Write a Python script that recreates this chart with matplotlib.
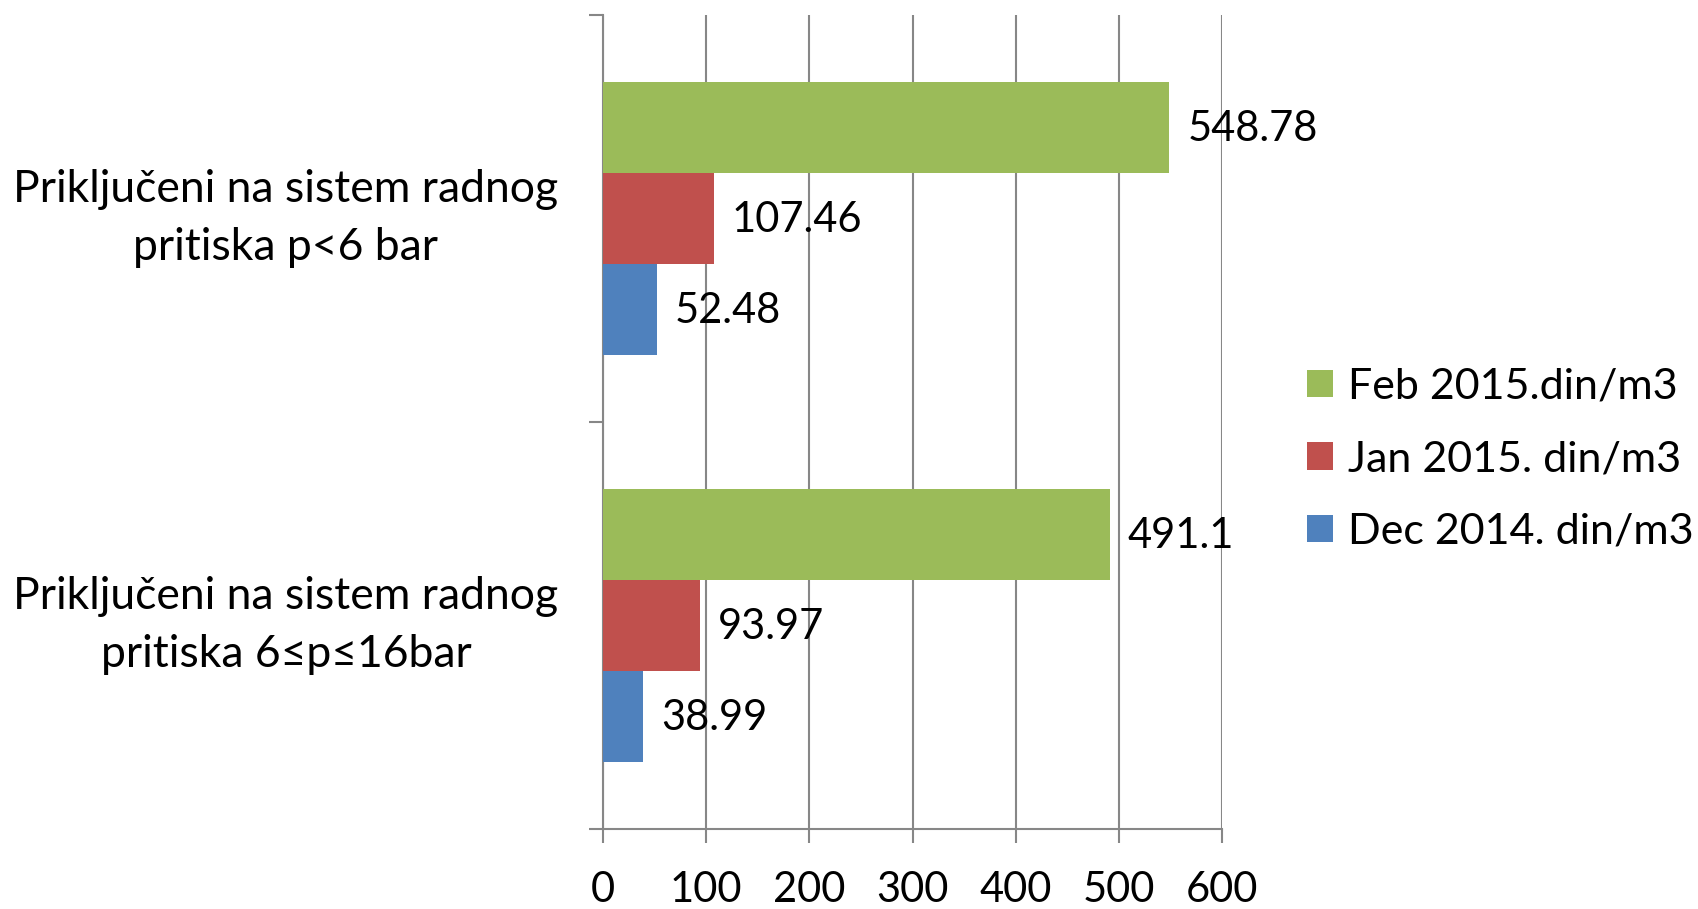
import numpy as np
import matplotlib
matplotlib.use("Agg")
import matplotlib.pyplot as plt
from matplotlib.patches import Patch

plt.rcParams['font.family'] = ['Lato', 'DejaVu Sans']

# Podaci
categories = ["Priključeni na sistem radnog\npritiska p<6 bar",
              "Priključeni na sistem radnog\npritiska 6≤p≤16bar"]
series_names = ["Feb 2015.din/m3", "Jan 2015. din/m3", "Dec 2014. din/m3"]
feb_2015 = [548.78, 491.1]
jan_2015 = [107.46, 93.97]
dec_2014 = [52.48, 38.99]
x_ticks = [0, 100, 200, 300, 400, 500, 600]

colors = ['#9BBB59', '#C0504D', '#4F81BD']
grid_color = '#878787'
fs = 30

fig = plt.figure(figsize=(16.98, 9.09), dpi=100)
ax = fig.add_axes([0.3551, 0.0880, 0.3646, 0.8955])

y = np.arange(len(categories))
bw = 0.2235
offsets = [-bw, 0, bw]
for vals, off, col in zip([feb_2015, jan_2015, dec_2014], offsets, colors):
    bars = ax.barh(y + off, vals, height=bw, color=col, zorder=3)
    for b, v in zip(bars, vals):
        ax.annotate(f"{v:g}", (b.get_width(), b.get_y() + b.get_height() / 2),
                    xytext=(13, -1), textcoords='offset points',
                    va='center', ha='left', fontsize=fs, zorder=4)

ax.set_xlim(0, 600)
ax.set_ylim(1.5, -0.5)
ax.set_xticks(x_ticks)
ax.set_xticklabels([str(t) for t in x_ticks], fontsize=fs)
ax.set_yticks(y)
ax.set_yticklabels([])
ax.set_yticks([-0.5, 0.5, 1.5], minor=True)

# nazivi kategorija kao tekst levo od ose
for yi, cat in zip(y, categories):
    ax.annotate(cat, (0, yi), xycoords=('axes fraction', 'data'),
                xytext=(-32, 0), textcoords='offset points',
                ha='right', va='center', multialignment='center',
                fontsize=32, linespacing=1.53, annotation_clip=False)

ax.xaxis.grid(True, color=grid_color, linewidth=1.5, zorder=0)
ax.tick_params(axis='x', which='major', direction='out', length=10, width=1.5,
               color=grid_color, pad=20)
ax.tick_params(axis='y', which='major', length=0)
ax.tick_params(axis='y', which='minor', direction='out', length=10, width=1.5,
               color=grid_color)

for s in ['top', 'right']:
    ax.spines[s].set_visible(False)
for s in ['left', 'bottom']:
    ax.spines[s].set_color(grid_color)
    ax.spines[s].set_linewidth(1.5)

handles = [Patch(facecolor=c, edgecolor='none') for c in colors]
fig.legend(handles, series_names, loc='center left', bbox_to_anchor=(0.770, 0.495),
           frameon=False, fontsize=31, handlelength=0.6, handleheight=0.6,
           handletextpad=0.35, labelspacing=0.8, borderaxespad=0, borderpad=0)

fig.savefig("out.png", dpi=100)
